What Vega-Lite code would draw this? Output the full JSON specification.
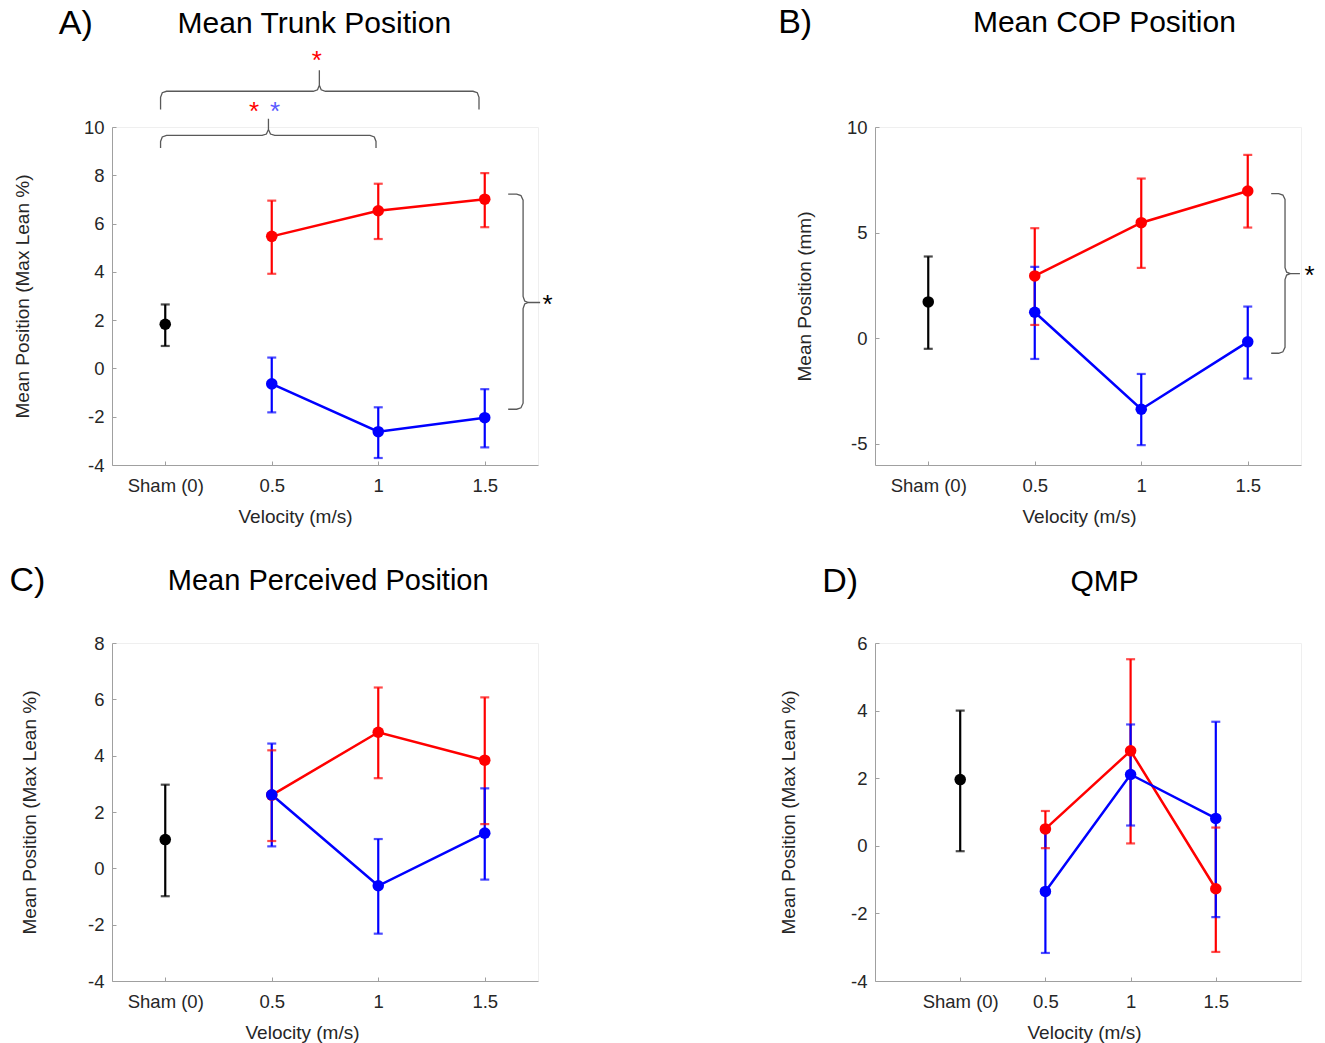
{
 "$schema": "https://vega.github.io/schema/vega-lite/v6.json",
 "background": "white",
 "padding": {"left": 8, "top": 5, "right": 0, "bottom": 0},
 "config": {
  "font": "Liberation Sans",
  "view": {"stroke": "#efefef", "strokeWidth": 1},
  "axis": {"grid": false, "domainColor": "#a0a0a0", "domainWidth": 1, "tickColor": "#a0a0a0", "tickSize": -4, "labelFont": "Liberation Sans", "labelFontSize": 18.5, "labelColor": "#262626", "titleFont": "Liberation Sans", "titleFontSize": 19, "titleFontWeight": "normal", "titleColor": "#262626"},
  "axisY": {"labelPadding": 12},
  "axisX": {"labelPadding": 15, "titlePadding": 13},
  "text": {"font": "Liberation Sans"}
 },
 "datasets": {
  "pts": [
   {"p": "A", "s": "k", "x": 0, "y": 1.83, "lo": 0.93, "hi": 2.65},
   {"p": "A", "s": "r", "x": 1, "y": 5.47, "lo": 3.92, "hi": 6.95},
   {"p": "A", "s": "r", "x": 2, "y": 6.53, "lo": 5.36, "hi": 7.65},
   {"p": "A", "s": "r", "x": 3, "y": 7.01, "lo": 5.85, "hi": 8.09},
   {"p": "A", "s": "b", "x": 1, "y": -0.64, "lo": -1.82, "hi": 0.45},
   {"p": "A", "s": "b", "x": 2, "y": -2.62, "lo": -3.71, "hi": -1.61},
   {"p": "A", "s": "b", "x": 3, "y": -2.04, "lo": -3.27, "hi": -0.86},
   {"p": "B", "s": "k", "x": 0, "y": 1.72, "lo": -0.5, "hi": 3.87},
   {"p": "B", "s": "r", "x": 1, "y": 2.95, "lo": 0.63, "hi": 5.21},
   {"p": "B", "s": "r", "x": 2, "y": 5.47, "lo": 3.33, "hi": 7.56},
   {"p": "B", "s": "r", "x": 3, "y": 6.97, "lo": 5.24, "hi": 8.68},
   {"p": "B", "s": "b", "x": 1, "y": 1.23, "lo": -0.98, "hi": 3.38},
   {"p": "B", "s": "b", "x": 2, "y": -3.36, "lo": -5.06, "hi": -1.69},
   {"p": "B", "s": "b", "x": 3, "y": -0.17, "lo": -1.91, "hi": 1.5},
   {"p": "C", "s": "k", "x": 0, "y": 1.02, "lo": -0.99, "hi": 2.97},
   {"p": "C", "s": "r", "x": 1, "y": 2.6, "lo": 0.97, "hi": 4.19},
   {"p": "C", "s": "r", "x": 2, "y": 4.83, "lo": 3.2, "hi": 6.42},
   {"p": "C", "s": "r", "x": 3, "y": 3.84, "lo": 1.57, "hi": 6.07},
   {"p": "C", "s": "b", "x": 1, "y": 2.61, "lo": 0.78, "hi": 4.43},
   {"p": "C", "s": "b", "x": 2, "y": -0.62, "lo": -2.32, "hi": 1.04},
   {"p": "C", "s": "b", "x": 3, "y": 1.25, "lo": -0.4, "hi": 2.84},
   {"p": "D", "s": "k", "x": 0, "y": 1.96, "lo": -0.16, "hi": 4.0},
   {"p": "D", "s": "r", "x": 1, "y": 0.5, "lo": -0.07, "hi": 1.03},
   {"p": "D", "s": "r", "x": 2, "y": 2.81, "lo": 0.07, "hi": 5.52},
   {"p": "D", "s": "r", "x": 3, "y": -1.27, "lo": -3.14, "hi": 0.54},
   {"p": "D", "s": "b", "x": 1, "y": -1.35, "lo": -3.17, "hi": 0.41},
   {"p": "D", "s": "b", "x": 2, "y": 2.11, "lo": 0.6, "hi": 3.59},
   {"p": "D", "s": "b", "x": 3, "y": 0.81, "lo": -2.11, "hi": 3.67}
  ],
  "br": [
   {"p": "A", "id": "A1", "o": 1, "x": -0.044, "y": 10.72},
   {"p": "A", "id": "A1", "o": 2, "x": -0.044, "y": 11.23},
   {"p": "A", "id": "A1", "o": 3, "x": -0.028, "y": 11.42},
   {"p": "A", "id": "A1", "o": 4, "x": 0.012, "y": 11.48},
   {"p": "A", "id": "A1", "o": 5, "x": 1.39, "y": 11.48},
   {"p": "A", "id": "A1", "o": 6, "x": 1.43, "y": 11.54},
   {"p": "A", "id": "A1", "o": 7, "x": 1.447, "y": 11.73},
   {"p": "A", "id": "A1", "o": 8, "x": 1.447, "y": 12.35},
   {"p": "A", "id": "A1", "o": 9, "x": 1.447, "y": 11.73},
   {"p": "A", "id": "A1", "o": 10, "x": 1.464, "y": 11.54},
   {"p": "A", "id": "A1", "o": 11, "x": 1.504, "y": 11.48},
   {"p": "A", "id": "A1", "o": 12, "x": 2.89, "y": 11.48},
   {"p": "A", "id": "A1", "o": 13, "x": 2.93, "y": 11.42},
   {"p": "A", "id": "A1", "o": 14, "x": 2.946, "y": 11.23},
   {"p": "A", "id": "A1", "o": 15, "x": 2.946, "y": 10.72},
   {"p": "A", "id": "A2", "o": 1, "x": -0.044, "y": 9.13},
   {"p": "A", "id": "A2", "o": 2, "x": -0.044, "y": 9.4},
   {"p": "A", "id": "A2", "o": 3, "x": -0.028, "y": 9.59},
   {"p": "A", "id": "A2", "o": 4, "x": 0.012, "y": 9.65},
   {"p": "A", "id": "A2", "o": 5, "x": 0.91, "y": 9.65},
   {"p": "A", "id": "A2", "o": 6, "x": 0.95, "y": 9.71},
   {"p": "A", "id": "A2", "o": 7, "x": 0.969, "y": 9.9},
   {"p": "A", "id": "A2", "o": 8, "x": 0.969, "y": 10.34},
   {"p": "A", "id": "A2", "o": 9, "x": 0.969, "y": 9.9},
   {"p": "A", "id": "A2", "o": 10, "x": 0.988, "y": 9.71},
   {"p": "A", "id": "A2", "o": 11, "x": 1.028, "y": 9.65},
   {"p": "A", "id": "A2", "o": 12, "x": 1.923, "y": 9.65},
   {"p": "A", "id": "A2", "o": 13, "x": 1.963, "y": 9.59},
   {"p": "A", "id": "A2", "o": 14, "x": 1.979, "y": 9.4},
   {"p": "A", "id": "A2", "o": 15, "x": 1.979, "y": 9.13},
   {"p": "A", "id": "A3", "o": 1, "x": 3.22, "y": 7.22},
   {"p": "A", "id": "A3", "o": 2, "x": 3.3, "y": 7.22},
   {"p": "A", "id": "A3", "o": 3, "x": 3.34, "y": 7.16},
   {"p": "A", "id": "A3", "o": 4, "x": 3.36, "y": 6.97},
   {"p": "A", "id": "A3", "o": 5, "x": 3.36, "y": 2.98},
   {"p": "A", "id": "A3", "o": 6, "x": 3.375, "y": 2.79},
   {"p": "A", "id": "A3", "o": 7, "x": 3.41, "y": 2.73},
   {"p": "A", "id": "A3", "o": 8, "x": 3.52, "y": 2.73},
   {"p": "A", "id": "A3", "o": 9, "x": 3.41, "y": 2.73},
   {"p": "A", "id": "A3", "o": 10, "x": 3.375, "y": 2.67},
   {"p": "A", "id": "A3", "o": 11, "x": 3.36, "y": 2.48},
   {"p": "A", "id": "A3", "o": 12, "x": 3.36, "y": -1.44},
   {"p": "A", "id": "A3", "o": 13, "x": 3.34, "y": -1.63},
   {"p": "A", "id": "A3", "o": 14, "x": 3.3, "y": -1.69},
   {"p": "A", "id": "A3", "o": 15, "x": 3.22, "y": -1.69},
   {"p": "B", "id": "B1", "o": 1, "x": 3.22, "y": 6.85},
   {"p": "B", "id": "B1", "o": 2, "x": 3.29, "y": 6.85},
   {"p": "B", "id": "B1", "o": 3, "x": 3.33, "y": 6.78},
   {"p": "B", "id": "B1", "o": 4, "x": 3.35, "y": 6.57},
   {"p": "B", "id": "B1", "o": 5, "x": 3.35, "y": 3.34},
   {"p": "B", "id": "B1", "o": 6, "x": 3.365, "y": 3.13},
   {"p": "B", "id": "B1", "o": 7, "x": 3.4, "y": 3.06},
   {"p": "B", "id": "B1", "o": 8, "x": 3.49, "y": 3.06},
   {"p": "B", "id": "B1", "o": 9, "x": 3.4, "y": 3.06},
   {"p": "B", "id": "B1", "o": 10, "x": 3.365, "y": 2.99},
   {"p": "B", "id": "B1", "o": 11, "x": 3.35, "y": 2.78},
   {"p": "B", "id": "B1", "o": 12, "x": 3.35, "y": -0.43},
   {"p": "B", "id": "B1", "o": 13, "x": 3.33, "y": -0.64},
   {"p": "B", "id": "B1", "o": 14, "x": 3.29, "y": -0.71},
   {"p": "B", "id": "B1", "o": 15, "x": 3.22, "y": -0.71}
  ],
  "tx": [
   {"p": "A", "k": "star", "s": "r", "t": "*", "x": 1.423, "y": 12.82},
   {"p": "A", "k": "star", "s": "r", "t": "*", "x": 0.835, "y": 10.72},
   {"p": "A", "k": "star", "s": "lb", "t": "*", "x": 1.032, "y": 10.72},
   {"p": "A", "k": "star", "s": "k", "t": "*", "x": 3.59, "y": 2.73},
   {"p": "A", "k": "title", "s": "k", "t": "Mean Trunk Position", "x": 1.4, "y": 14.28},
   {"p": "A", "k": "letter", "s": "k", "t": "A)", "x": -0.84, "y": 14.28},
   {"p": "B", "k": "star", "s": "k", "t": "*", "x": 3.58, "y": 3.06},
   {"p": "B", "k": "title", "s": "k", "t": "Mean COP Position", "x": 1.654, "y": 14.91},
   {"p": "B", "k": "letter", "s": "k", "t": "B)", "x": -1.25, "y": 14.91},
   {"p": "C", "k": "title", "s": "k", "t": "Mean Perceived Position", "x": 1.53, "y": 10.21},
   {"p": "C", "k": "letter", "s": "k", "t": "C)", "x": -1.295, "y": 10.21},
   {"p": "D", "k": "title", "s": "k", "t": "QMP", "x": 1.696, "y": 7.79},
   {"p": "D", "k": "letter", "s": "k", "t": "D)", "x": -1.41, "y": 7.79}
  ]
 },
 "columns": 2,
 "spacing": {"row": 178, "column": 337},
 "bounds": "flush",
 "concat": [
  {
   "width": 426, "height": 338,
   "encoding": {
    "x": {"field": "x", "type": "quantitative", "scale": {"domain": [-0.5, 3.5], "nice": false, "zero": false}, "axis": {"values": [0, 1, 2, 3], "labelExpr": "['Sham (0)','0.5','1','1.5'][datum.value]", "title": "Velocity (m/s)", "titleX": 183}},
    "y": {"field": "y", "type": "quantitative", "scale": {"domain": [-4, 10], "nice": false, "zero": false}, "axis": {"values": [-4, -2, 0, 2, 4, 6, 8, 10], "labelExpr": "datum.value < 0 ? '-' + (-datum.value) : '' + datum.value", "title": "Mean Position (Max Lean %)", "titlePadding": 51}},
    "color": {"field": "s", "type": "nominal", "scale": {"domain": ["k", "r", "b", "lb"], "range": ["#000000", "#ff0000", "#0000ff", "#5a5aff"]}, "legend": null}
   },
   "layer": [
    {"data": {"name": "pts"}, "transform": [{"filter": "datum.p=='A'"}], "mark": {"type": "rule", "strokeWidth": 2.2}, "encoding": {"y": {"field": "lo", "type": "quantitative"}, "y2": {"field": "hi"}}},
    {"data": {"name": "pts"}, "transform": [{"filter": "datum.p=='A'"}], "mark": {"type": "tick", "orient": "horizontal", "size": 9, "thickness": 2.2}, "encoding": {"y": {"field": "lo", "type": "quantitative"}}},
    {"data": {"name": "pts"}, "transform": [{"filter": "datum.p=='A'"}], "mark": {"type": "tick", "orient": "horizontal", "size": 9, "thickness": 2.2}, "encoding": {"y": {"field": "hi", "type": "quantitative"}}},
    {"data": {"name": "pts"}, "transform": [{"filter": "datum.p=='A' && datum.s!='k'"}], "mark": {"type": "line", "strokeWidth": 2.5}},
    {"data": {"name": "pts"}, "transform": [{"filter": "datum.p=='A'"}], "mark": {"type": "circle", "size": 133, "opacity": 1}},
    {"data": {"name": "br"}, "transform": [{"filter": "datum.p=='A'"}], "mark": {"type": "line", "strokeWidth": 1.3}, "encoding": {"detail": {"field": "id", "type": "nominal"}, "order": {"field": "o", "type": "quantitative"}, "color": {"value": "#595959"}}},
    {"data": {"name": "tx"}, "transform": [{"filter": "datum.p=='A' && datum.k=='star'"}], "mark": {"type": "text", "fontSize": 26, "dy": 2}, "encoding": {"text": {"field": "t", "type": "nominal"}}},
    {"data": {"name": "tx"}, "transform": [{"filter": "datum.p=='A' && datum.k=='title'"}], "mark": {"type": "text", "fontSize": 30}, "encoding": {"text": {"field": "t", "type": "nominal"}, "color": {"value": "#000000"}}},
    {"data": {"name": "tx"}, "transform": [{"filter": "datum.p=='A' && datum.k=='letter'"}], "mark": {"type": "text", "fontSize": 34}, "encoding": {"text": {"field": "t", "type": "nominal"}, "color": {"value": "#000000"}}}
   ]
  },
  {
   "width": 426, "height": 338,
   "encoding": {
    "x": {"field": "x", "type": "quantitative", "scale": {"domain": [-0.5, 3.5], "nice": false, "zero": false}, "axis": {"values": [0, 1, 2, 3], "labelExpr": "['Sham (0)','0.5','1','1.5'][datum.value]", "title": "Velocity (m/s)", "titleX": 204}},
    "y": {"field": "y", "type": "quantitative", "scale": {"domain": [-6, 10], "nice": false, "zero": false}, "axis": {"values": [-5, 0, 5, 10], "labelExpr": "datum.value < 0 ? '-' + (-datum.value) : '' + datum.value", "title": "Mean Position (mm)", "titlePadding": 32}},
    "color": {"field": "s", "type": "nominal", "scale": {"domain": ["k", "r", "b", "lb"], "range": ["#000000", "#ff0000", "#0000ff", "#5a5aff"]}, "legend": null}
   },
   "layer": [
    {"data": {"name": "pts"}, "transform": [{"filter": "datum.p=='B'"}], "mark": {"type": "rule", "strokeWidth": 2.2}, "encoding": {"y": {"field": "lo", "type": "quantitative"}, "y2": {"field": "hi"}}},
    {"data": {"name": "pts"}, "transform": [{"filter": "datum.p=='B'"}], "mark": {"type": "tick", "orient": "horizontal", "size": 9, "thickness": 2.2}, "encoding": {"y": {"field": "lo", "type": "quantitative"}}},
    {"data": {"name": "pts"}, "transform": [{"filter": "datum.p=='B'"}], "mark": {"type": "tick", "orient": "horizontal", "size": 9, "thickness": 2.2}, "encoding": {"y": {"field": "hi", "type": "quantitative"}}},
    {"data": {"name": "pts"}, "transform": [{"filter": "datum.p=='B' && datum.s!='k'"}], "mark": {"type": "line", "strokeWidth": 2.5}},
    {"data": {"name": "pts"}, "transform": [{"filter": "datum.p=='B'"}], "mark": {"type": "circle", "size": 133, "opacity": 1}},
    {"data": {"name": "br"}, "transform": [{"filter": "datum.p=='B'"}], "mark": {"type": "line", "strokeWidth": 1.3}, "encoding": {"detail": {"field": "id", "type": "nominal"}, "order": {"field": "o", "type": "quantitative"}, "color": {"value": "#595959"}}},
    {"data": {"name": "tx"}, "transform": [{"filter": "datum.p=='B' && datum.k=='star'"}], "mark": {"type": "text", "fontSize": 26, "dy": 2}, "encoding": {"text": {"field": "t", "type": "nominal"}}},
    {"data": {"name": "tx"}, "transform": [{"filter": "datum.p=='B' && datum.k=='title'"}], "mark": {"type": "text", "fontSize": 30}, "encoding": {"text": {"field": "t", "type": "nominal"}, "color": {"value": "#000000"}}},
    {"data": {"name": "tx"}, "transform": [{"filter": "datum.p=='B' && datum.k=='letter'"}], "mark": {"type": "text", "fontSize": 34}, "encoding": {"text": {"field": "t", "type": "nominal"}, "color": {"value": "#000000"}}}
   ]
  },
  {
   "width": 426, "height": 338,
   "encoding": {
    "x": {"field": "x", "type": "quantitative", "scale": {"domain": [-0.5, 3.5], "nice": false, "zero": false}, "axis": {"values": [0, 1, 2, 3], "labelExpr": "['Sham (0)','0.5','1','1.5'][datum.value]", "title": "Velocity (m/s)", "titleX": 190}},
    "y": {"field": "y", "type": "quantitative", "scale": {"domain": [-4, 8], "nice": false, "zero": false}, "axis": {"values": [-4, -2, 0, 2, 4, 6, 8], "labelExpr": "datum.value < 0 ? '-' + (-datum.value) : '' + datum.value", "title": "Mean Position (Max Lean %)", "titlePadding": 48}},
    "color": {"field": "s", "type": "nominal", "scale": {"domain": ["k", "r", "b", "lb"], "range": ["#000000", "#ff0000", "#0000ff", "#5a5aff"]}, "legend": null}
   },
   "layer": [
    {"data": {"name": "pts"}, "transform": [{"filter": "datum.p=='C'"}], "mark": {"type": "rule", "strokeWidth": 2.2}, "encoding": {"y": {"field": "lo", "type": "quantitative"}, "y2": {"field": "hi"}}},
    {"data": {"name": "pts"}, "transform": [{"filter": "datum.p=='C'"}], "mark": {"type": "tick", "orient": "horizontal", "size": 9, "thickness": 2.2}, "encoding": {"y": {"field": "lo", "type": "quantitative"}}},
    {"data": {"name": "pts"}, "transform": [{"filter": "datum.p=='C'"}], "mark": {"type": "tick", "orient": "horizontal", "size": 9, "thickness": 2.2}, "encoding": {"y": {"field": "hi", "type": "quantitative"}}},
    {"data": {"name": "pts"}, "transform": [{"filter": "datum.p=='C' && datum.s!='k'"}], "mark": {"type": "line", "strokeWidth": 2.5}},
    {"data": {"name": "pts"}, "transform": [{"filter": "datum.p=='C'"}], "mark": {"type": "circle", "size": 133, "opacity": 1}},
    {"data": {"name": "tx"}, "transform": [{"filter": "datum.p=='C' && datum.k=='title'"}], "mark": {"type": "text", "fontSize": 29}, "encoding": {"text": {"field": "t", "type": "nominal"}, "color": {"value": "#000000"}}},
    {"data": {"name": "tx"}, "transform": [{"filter": "datum.p=='C' && datum.k=='letter'"}], "mark": {"type": "text", "fontSize": 34}, "encoding": {"text": {"field": "t", "type": "nominal"}, "color": {"value": "#000000"}}}
   ]
  },
  {
   "width": 426, "height": 338,
   "encoding": {
    "x": {"field": "x", "type": "quantitative", "scale": {"domain": [-1, 4], "nice": false, "zero": false}, "axis": {"values": [0, 1, 2, 3], "labelExpr": "['Sham (0)','0.5','1','1.5'][datum.value]", "title": "Velocity (m/s)", "titleX": 209}},
    "y": {"field": "y", "type": "quantitative", "scale": {"domain": [-4, 6], "nice": false, "zero": false}, "axis": {"values": [-4, -2, 0, 2, 4, 6], "labelExpr": "datum.value < 0 ? '-' + (-datum.value) : '' + datum.value", "title": "Mean Position (Max Lean %)", "titlePadding": 52}},
    "color": {"field": "s", "type": "nominal", "scale": {"domain": ["k", "r", "b", "lb"], "range": ["#000000", "#ff0000", "#0000ff", "#5a5aff"]}, "legend": null}
   },
   "layer": [
    {"data": {"name": "pts"}, "transform": [{"filter": "datum.p=='D'"}], "mark": {"type": "rule", "strokeWidth": 2.2}, "encoding": {"y": {"field": "lo", "type": "quantitative"}, "y2": {"field": "hi"}}},
    {"data": {"name": "pts"}, "transform": [{"filter": "datum.p=='D'"}], "mark": {"type": "tick", "orient": "horizontal", "size": 9, "thickness": 2.2}, "encoding": {"y": {"field": "lo", "type": "quantitative"}}},
    {"data": {"name": "pts"}, "transform": [{"filter": "datum.p=='D'"}], "mark": {"type": "tick", "orient": "horizontal", "size": 9, "thickness": 2.2}, "encoding": {"y": {"field": "hi", "type": "quantitative"}}},
    {"data": {"name": "pts"}, "transform": [{"filter": "datum.p=='D' && datum.s!='k'"}], "mark": {"type": "line", "strokeWidth": 2.5}},
    {"data": {"name": "pts"}, "transform": [{"filter": "datum.p=='D'"}], "mark": {"type": "circle", "size": 133, "opacity": 1}},
    {"data": {"name": "tx"}, "transform": [{"filter": "datum.p=='D' && datum.k=='title'"}], "mark": {"type": "text", "fontSize": 30}, "encoding": {"text": {"field": "t", "type": "nominal"}, "color": {"value": "#000000"}}},
    {"data": {"name": "tx"}, "transform": [{"filter": "datum.p=='D' && datum.k=='letter'"}], "mark": {"type": "text", "fontSize": 34}, "encoding": {"text": {"field": "t", "type": "nominal"}, "color": {"value": "#000000"}}}
   ]
  }
 ]
}
